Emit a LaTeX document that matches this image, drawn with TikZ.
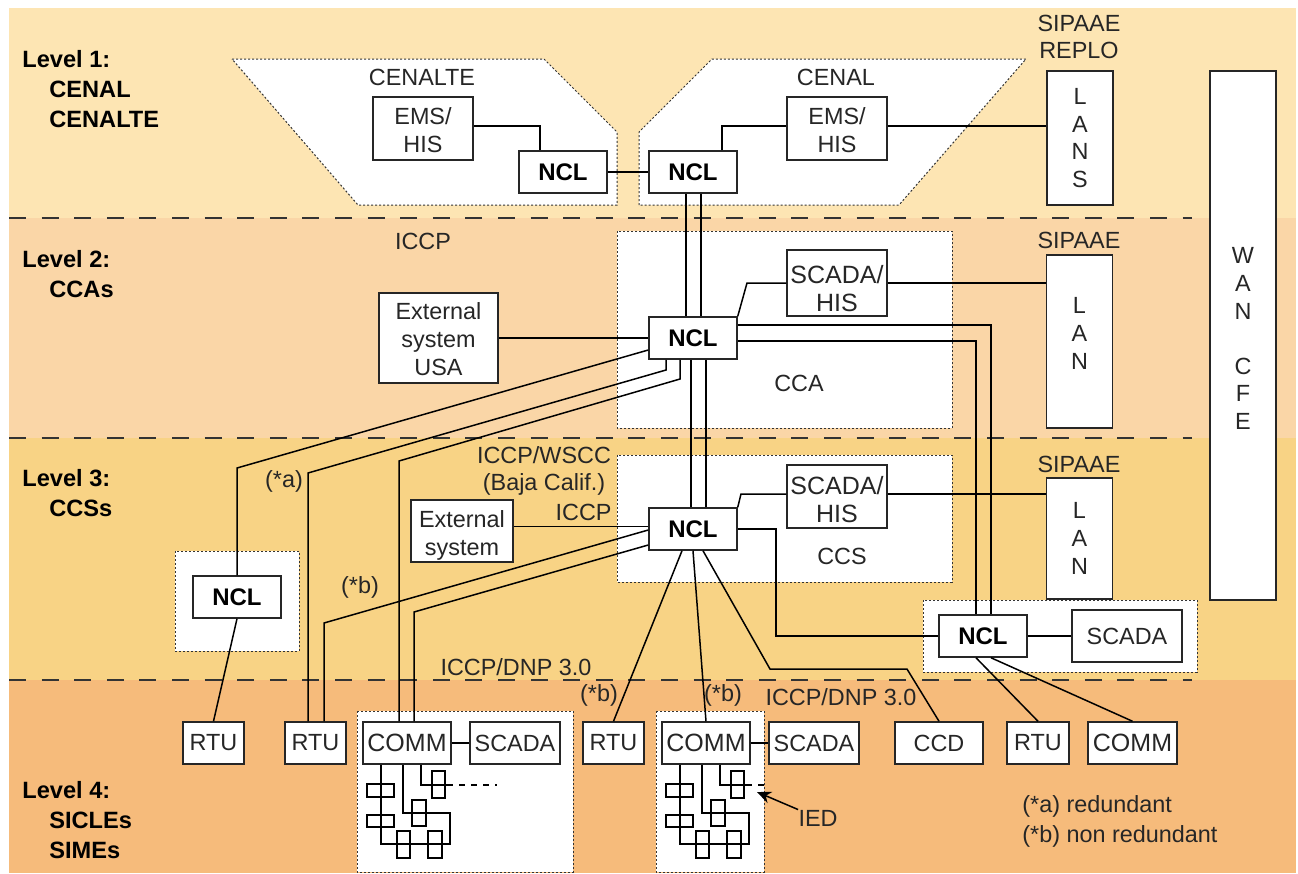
\documentclass[tikz,border=0pt]{standalone}
\usepackage{fontspec}
\setmainfont{Liberation Sans}
\usepackage{xcolor}
\usetikzlibrary{arrows.meta,calc}

\definecolor{bandOne}{HTML}{FDE5B3}
\definecolor{bandTwo}{HTML}{FAD6A7}
\definecolor{bandThree}{HTML}{F8D385}
\definecolor{bandFour}{HTML}{F6BB7B}

\newcommand{\dropline}[1]{\rule{0pt}{#1}}

\tikzset{
    every node/.style={font=\fontsize{11.7}{13.8}\selectfont, text=black!85, align=center, inner sep=0pt},
    boxnode/.style={draw=black!85, fill=white, line width=0.75pt},
    widebox/.style={boxnode, font=\fontsize{12.5}{14}\selectfont},
    nclnode/.style={boxnode, minimum width=44pt, minimum height=21pt, font=\fontsize{12}{14}\selectfont\bfseries, text=black},
    levelnode/.style={anchor=west, align=left, font=\fontsize{11.8}{15}\selectfont\bfseries, text=black},
    zonebox/.style={draw=black!80, fill=white, dash pattern=on 1pt off 1pt, line width=0.5pt},
    link/.style={draw=black, line width=0.75pt},
    levelline/.style={draw=black!80, line width=0.75pt, dash pattern=on 8.5pt off 7.8pt},
    iedbox/.style={draw=black, line width=0.75pt}
}

\begin{document}
\begin{tikzpicture}[x=0.5pt, y=-0.5pt]
    \useasboundingbox (0,0) rectangle (1298,874);

    % bands
    \fill[bandOne] (9,8) rectangle (1296,218);
    \fill[bandTwo] (9,218) rectangle (1296,438);
    \fill[bandThree] (9,438) rectangle (1296,680);
    \fill[bandFour] (9,680) rectangle (1296,873);

    % dotted zones
    \draw[zonebox] (232,59) -- (544,59) -- (617,132) -- (617,205) -- (358,205) -- cycle;
    \draw[zonebox] (639,205) -- (639,132) -- (712,59) -- (1026,59) -- (899,205) -- cycle;
    \draw[zonebox] (617,231) rectangle (952,428);
    \draw[zonebox] (617,455) rectangle (952,582);
    \draw[zonebox] (175,551) rectangle (299,651);
    \draw[zonebox] (923,600) rectangle (1197,672);
    \draw[zonebox] (357,711) rectangle (573,872);
    \draw[zonebox] (656,711) rectangle (764,872);

    % level separators
    \draw[levelline] (9,218) -- (1192,218);
    \draw[levelline] (9,438) -- (1192,438);
    \draw[levelline] (9,680) -- (1192,680);

    % level captions
    \node[levelnode] (levelOne) at (22,89) {Level 1:\\\hspace*{13.5pt}CENAL\\\hspace*{13.5pt}CENALTE};
    \node[levelnode] (levelTwo) at (22,274) {Level 2:\\\hspace*{13.5pt}CCAs};
    \node[levelnode] (levelThree) at (22,493) {Level 3:\\\hspace*{13.5pt}CCSs};
    \node[levelnode] (levelFour) at (22,820) {Level 4:\\\hspace*{13.5pt}SICLEs\\\hspace*{13.5pt}SIMEs};

    % 1. Level 1 boxes
    \node[boxnode, minimum width=50pt, minimum height=31.5pt] (emsCenalte) at (423,128.5) {\dropline{10.2pt}EMS/\\HIS};
    \node[boxnode, minimum width=50pt, minimum height=31.5pt] (emsCenal) at (837,128.5) {\dropline{10.2pt}EMS/\\HIS};
    \node[nclnode] (nclCenalte) at (563,172) {NCL};
    \node[nclnode] (nclCenal) at (693,172) {NCL};
    \node[boxnode, minimum width=33pt, minimum height=67pt] (lanRepl) at (1080,138) {L\\A\\N\\S};
    \node[boxnode, minimum width=33pt, minimum height=264.5pt] (wanCfe) at (1243,335.5) {\dropline{11.2pt}W\\A\\N\\ \\C\\F\\E};

    % 2. Level 2 boxes
    \node[nclnode] (nclCca) at (693,338) {NCL};
    \node[widebox, minimum width=50pt, minimum height=33pt] (scadaCca) at (837,283) {\dropline{14.2pt}SCADA/\\HIS};
    \node[boxnode, minimum width=59.5pt, minimum height=45pt] (extUsa) at (438.5,338) {\dropline{9.7pt}External\\system\\USA};
    \node[boxnode, minimum width=33pt, minimum height=86.5pt, text depth=8pt] (lanCca) at (1079.5,341.5) {L\\A\\N};

    % 3. Level 3 boxes
    \node[nclnode] (nclCcs) at (693,529) {NCL};
    \node[widebox, minimum width=50pt, minimum height=31.5pt] (scadaCcs) at (837,496.5) {\dropline{12.2pt}SCADA/\\HIS};
    \node[boxnode, minimum width=51pt, minimum height=31pt] (extSys) at (462,531) {\dropline{13.2pt}External\\system};
    \node[boxnode, minimum width=33pt, minimum height=60.5pt] (lanCcs) at (1079.5,538.5) {L\\A\\N};
    \node[nclnode] (nclWest) at (237,597) {NCL};
    \node[nclnode] (nclEast) at (983,636) {NCL};
    \node[boxnode, minimum width=55pt, minimum height=26pt] (scadaEast) at (1127,636) {SCADA};

    % 4. Level 4 boxes
    \node[boxnode, minimum width=30.5pt, minimum height=21pt] (rtuOne) at (213.5,743) {RTU};
    \node[boxnode, minimum width=30.5pt, minimum height=21pt] (rtuTwo) at (315.5,743) {RTU};
    \node[widebox, minimum width=44pt, minimum height=21pt] (commA) at (407,743) {COMM};
    \node[boxnode, minimum width=45pt, minimum height=21pt] (scadaA) at (515,743) {SCADA};
    \node[boxnode, minimum width=30.5pt, minimum height=21pt] (rtuThree) at (613.5,743) {RTU};
    \node[widebox, minimum width=44pt, minimum height=21pt] (commB) at (706,743) {COMM};
    \node[boxnode, minimum width=45pt, minimum height=21pt] (scadaB) at (814,743) {SCADA};
    \node[boxnode, minimum width=44pt, minimum height=21pt] (ccdBox) at (939,743) {CCD};
    \node[boxnode, minimum width=31pt, minimum height=21pt] (rtuFour) at (1038,743) {RTU};
    \node[widebox, minimum width=44.5pt, minimum height=21pt] (commC) at (1132.5,743) {COMM};

    % links level 1
    \draw[link] ([yshift=1.25pt]emsCenalte.east) -| ([xshift=-11.5pt]nclCenalte.north);
    \draw[link] (nclCenalte.east) -- (nclCenal.west);
    \draw[link] ([xshift=14.5pt]nclCenal.north) |- ([yshift=1.25pt]emsCenal.west);
    \draw[link] ([yshift=1.25pt]emsCenal.east) -- ([yshift=1.25pt]emsCenal.east -| lanRepl.west);
    \draw[link] ([xshift=-3.5pt]nclCenal.south) -- ([xshift=-3.5pt]nclCca.north);
    \draw[link] ([xshift=4pt]nclCenal.south) -- ([xshift=4pt]nclCca.north);

    % links level 2
    \draw[link] (extUsa.east) -- (nclCca.west);
    \draw[link] (nclCca.north east) -- (747,283) -- (scadaCca.west);
    \draw[link] (scadaCca.east) -- (scadaCca.east -| lanCca.west);
    \draw[link] ([xshift=-1pt]nclCca.south) -- ([xshift=-1pt]nclCcs.north);
    \draw[link] ([xshift=6.5pt]nclCca.south) -- ([xshift=6.5pt]nclCcs.north);
    \draw[link] ([yshift=6.5pt]nclCca.east) -| ([xshift=4pt]nclEast.north);
    \draw[link] ([yshift=-1.5pt]nclCca.east) -| ([xshift=-3.5pt]nclEast.north);
    \draw[link] ([yshift=-6pt]nclCca.west) -- (237,468) -- (nclWest.north);
    \draw[link] ([xshift=-13.5pt]nclCca.south) -- (666,370) -- (308,473) -- ([xshift=-3.75pt]rtuTwo.north);
    \draw[link] ([xshift=-6.5pt]nclCca.south) -- (680,379) -- (399,461) -- ([xshift=-4pt]commA.north);

    % links level 3
    \draw[link] ([yshift=1.25pt]nclCcs.west) -- ([yshift=2.25pt]extSys.east);
    \draw[link] (nclCcs.north east) -- (741,494) -- ([yshift=1.25pt]scadaCcs.west);
    \draw[link] ([yshift=1.25pt]scadaCcs.east) -- ([yshift=1.25pt]scadaCcs.east -| lanCcs.west);
    \draw[link] (nclCcs.east) -| (776,636) -- (nclEast.west);
    \draw[link] ([yshift=-0.5pt]nclCcs.west) -- (324,623) -- ([xshift=4.25pt]rtuTwo.north);
    \draw[link] ([yshift=-8pt]nclCcs.west) -- (414,612) -- ([xshift=3.5pt]commA.north);
    \draw[link] ([xshift=-5.5pt]nclCcs.south) -- (rtuThree.north);
    \draw[link] (nclCcs.south) -- (commB.north);
    \draw[link] ([xshift=5pt]nclCcs.south) -- (770,669) -- (907,669) -- (ccdBox.north);
    \draw[link] (nclWest.south) -- (rtuOne.north);
    \draw[link] (nclEast.east) -- (scadaEast.west);
    \draw[link] ([xshift=-3.5pt]nclEast.south) -- (rtuFour.north);
    \draw[link] ([xshift=4pt]nclEast.south) -- (commC.north);

    % links level 4
    \draw[link] (commA.east) -- (scadaA.west);
    \draw[link] (commB.east) -- (scadaB.west);

    % IED bus, first
    \begin{scope}
        \draw[link] ([xshift=-13pt]commA.south) -- (381,844) -- (450,844) -- (450,813) -- (403,813) -- ([xshift=-2pt]commA.south);
        \draw[link] ([xshift=7pt]commA.south) |- (447,785);
        \draw[link, dashed] (447,785) -- (497,785);
        \draw[iedbox] (367,784) rectangle (394,797);
        \draw[iedbox] (367,815) rectangle (394,827);
        \draw[iedbox] (397,831) rectangle (410,858);
        \draw[iedbox] (428,831) rectangle (442,858);
        \draw[iedbox] (412,800) rectangle (426,826);
        \draw[iedbox] (432,771) rectangle (445,798);
    \end{scope}

    % IED bus, second
    \begin{scope}[xshift=149.5pt]
        \draw[link] ([xshift=-13pt]commB.south) -- (381,844) -- (450,844) -- (450,813) -- (403,813) -- ([xshift=-2pt]commB.south);
        \draw[link] ([xshift=7pt]commB.south) |- (447,785);
        \draw[link, dashed] (447,785) -- (465,785);
        \draw[iedbox] (367,784) rectangle (394,797);
        \draw[iedbox] (367,815) rectangle (394,827);
        \draw[iedbox] (397,831) rectangle (410,858);
        \draw[iedbox] (428,831) rectangle (442,858);
        \draw[iedbox] (412,800) rectangle (426,826);
        \draw[iedbox] (432,771) rectangle (445,798);
    \end{scope}

    % plain labels
    \node (tagCenalte) at (422,77) {CENALTE};
    \node (tagCenal) at (836,77) {CENAL};
    \node (tagRepl) at (1079,37) {SIPAAE\\REPLO};
    \node (tagIccpTwo) at (423,241) {ICCP};
    \node (tagSipTwo) at (1079,240) {SIPAAE};
    \node (tagSipThree) at (1079,464) {SIPAAE};
    \node (tagCca) at (799,383) {CCA};
    \node (tagCcs) at (842,556) {CCS};
    \node (tagWscc) at (544,471) {ICCP/WSCC\\(Baja Calif.)};
    \node[anchor=east] (tagIccpThree) at (612,512) {ICCP};
    \node (tagA) at (284,481) {(*a)};
    \node (tagB) at (360,587) {(*b)};
    \node (tagDnpOne) at (516,667) {ICCP/DNP 3.0};
    \node (tagDnpTwo) at (841,697) {ICCP/DNP 3.0};
    \node (tagBrtu) at (599,695) {(*b)};
    \node (tagBcomm) at (723,695) {(*b)};
    \node[font=\fontsize{11.7}{15}\selectfont, anchor=west, align=left] (tagNotes) at (1022,821) {(*a) redundant\\(*b) non redundant};
    \node (tagIed) at (818,818) {IED};
    \coordinate (iedTip) at (757,792);
    \draw[link, -{Stealth[length=7pt,width=6pt]}] (tagIed.north west) -- (iedTip);
\end{tikzpicture}
\end{document}
